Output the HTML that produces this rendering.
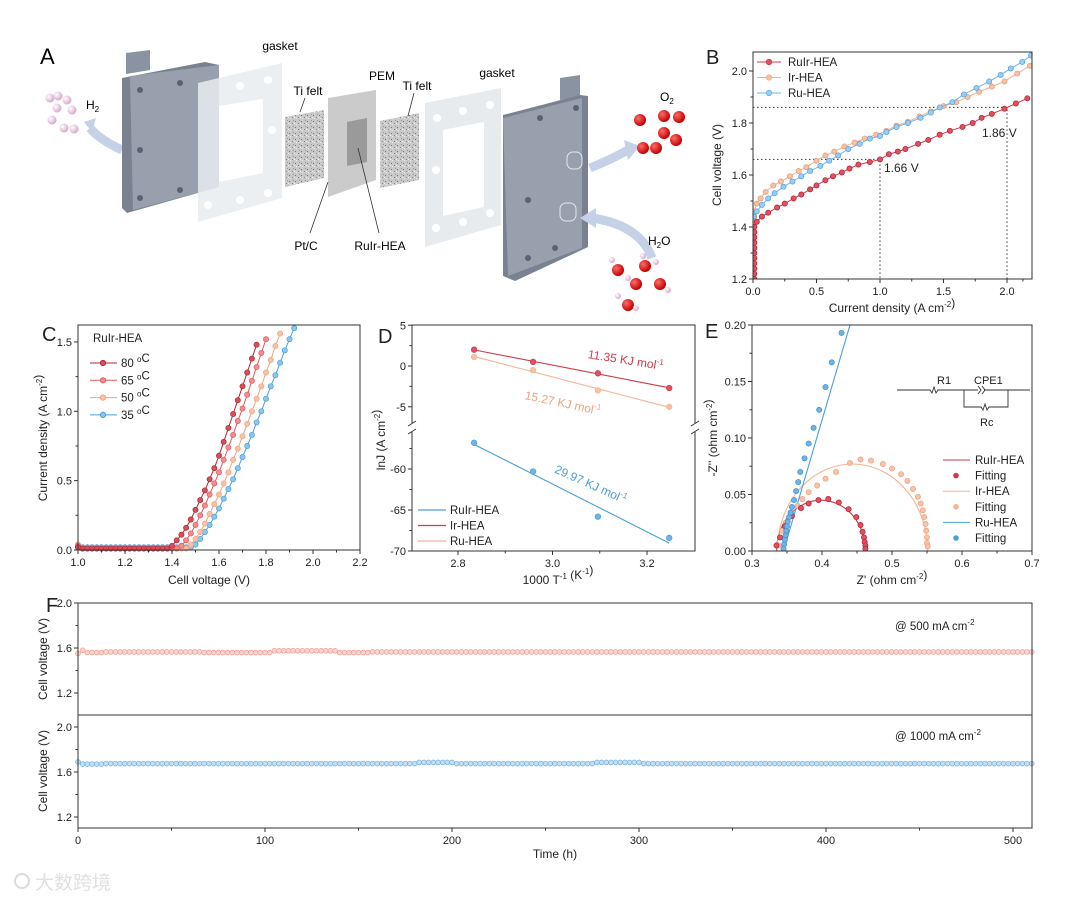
<!DOCTYPE html>
<html><head><meta charset="utf-8"><style>
html,body{margin:0;padding:0;background:#fff;}
svg{display:block;font-family:"Liberation Sans","Noto Sans CJK SC",sans-serif;}
</style></head><body>
<svg id="fig" width="1080" height="901" viewBox="0 0 1080 901" xmlns="http://www.w3.org/2000/svg">
<defs>
<pattern id="felt" width="6" height="6" patternUnits="userSpaceOnUse">
<rect width="6" height="6" fill="#c9c9c9"/><rect x="1" y="1" width="1" height="1" fill="#777"/><rect x="4" y="3" width="1" height="1" fill="#888"/><rect x="2" y="4" width="1" height="1" fill="#eee"/><rect x="5" y="0" width="1" height="1" fill="#999"/><rect x="0" y="3" width="1" height="1" fill="#f4f4f4"/>
</pattern>
<radialGradient id="red" cx="35%" cy="35%" r="65%"><stop offset="0" stop-color="#ff6b6b"/><stop offset="1" stop-color="#c40000"/></radialGradient>
<radialGradient id="pink" cx="35%" cy="35%" r="65%"><stop offset="0" stop-color="#fff"/><stop offset="1" stop-color="#d9a8cc"/></radialGradient>
</defs>
<g>
<text x="40" y="64" font-size="22">A</text>
<path d="M122,150 Q100,140 90,128" stroke="#c4d1e6" stroke-width="9" fill="none"/>
<polygon points="84,122 96,118 92,132" fill="#c4d1e6"/>
<g>
<circle cx="50" cy="98" r="4.5" fill="url(#pink)"/><circle cx="58" cy="96" r="4.5" fill="url(#pink)"/><circle cx="57" cy="108" r="4.5" fill="url(#pink)"/><circle cx="67" cy="100" r="4.5" fill="url(#pink)"/><circle cx="72" cy="110" r="4.5" fill="url(#pink)"/><circle cx="52" cy="120" r="4.5" fill="url(#pink)"/><circle cx="64" cy="128" r="4.5" fill="url(#pink)"/><circle cx="74" cy="129" r="4.5" fill="url(#pink)"/>
</g>
<text x="86" y="109" font-size="12">H<tspan font-size="8" dy="3">2</tspan></text>
<polygon points="126,53 150,50 150,70 126,74" fill="#8a93a2"/>
<polygon points="122,78 205,62 219,65 219,187 127,213 122,208" fill="#7a8292"/>
<polygon points="130,76 219,65 219,187 133,210" fill="#98a0ae"/>
<g fill="#5a6170"><circle cx="140" cy="90" r="3"/><circle cx="180" cy="83" r="3"/><circle cx="140" cy="150" r="3"/><circle cx="140" cy="198" r="3"/><circle cx="180" cy="190" r="3"/></g>
<polygon points="198,83 282,63 282,198 198,222" fill="#e9ecef" opacity="0.85"/>
<polygon points="219,106 263,99 263,173 219,182" fill="#fff"/>
<g fill="#fff"><circle cx="240" cy="86" r="4"/><circle cx="268" cy="80" r="4"/><circle cx="272" cy="130" r="4"/><circle cx="240" cy="200" r="4"/><circle cx="268" cy="193" r="4"/><circle cx="208" cy="205" r="4"/></g>
<text x="280" y="50" font-size="12" text-anchor="middle">gasket</text>
<polygon points="285,117 324,110 324,178 285,187" fill="url(#felt)"/>
<text x="308" y="95" font-size="12" text-anchor="middle">Ti felt</text>
<line x1="305" y1="98" x2="300" y2="112" stroke="#333" stroke-width="0.8"/>
<polygon points="328,98 376,90 376,180 328,197" fill="#cbcbcb"/>
<polygon points="347,122 367,118 367,162 347,166" fill="#9a9a9a"/>
<text x="382" y="80" font-size="12" text-anchor="middle">PEM</text>
<polygon points="380,121 419,113 419,180 380,188" fill="url(#felt)"/>
<text x="417" y="90" font-size="12" text-anchor="middle">Ti felt</text>
<line x1="414" y1="93" x2="408" y2="116" stroke="#333" stroke-width="0.8"/>
<polygon points="425,103 501,88 501,225 425,247" fill="#e6e9ec" opacity="0.9"/>
<polygon points="443,130 484,122 484,207 443,216" fill="#fff"/>
<g fill="#fff"><circle cx="437" cy="118" r="4"/><circle cx="463" cy="111" r="4"/><circle cx="490" cy="105" r="4"/><circle cx="436" cy="170" r="4"/><circle cx="436" cy="228" r="4"/><circle cx="463" cy="222" r="4"/><circle cx="490" cy="213" r="4"/></g>
<text x="497" y="77" font-size="12" text-anchor="middle">gasket</text>
<polygon points="560,78 580,75 580,96 560,100" fill="#8a93a2"/>
<polygon points="503,115 580,95 588,96 588,247 515,281 503,276" fill="#7a8292"/>
<polygon points="503,118 582,98 582,248 508,276" fill="#98a0ae"/>
<g fill="none" stroke="#e4e8ee" stroke-width="1"><rect x="567" y="152" width="15" height="17" rx="6"/><rect x="560" y="203" width="16" height="18" rx="6"/></g>
<g fill="#5a6170"><circle cx="540" cy="118" r="3"/><circle cx="576" cy="108" r="3"/><circle cx="528" cy="200" r="3"/><circle cx="528" cy="258" r="3"/><circle cx="555" cy="248" r="3"/></g>
<line x1="310" y1="233" x2="328" y2="182" stroke="#333" stroke-width="0.8"/>
<line x1="379" y1="233" x2="358" y2="148" stroke="#333" stroke-width="0.8"/>
<text x="306" y="250" font-size="12" text-anchor="middle">Pt/C</text>
<text x="380" y="250" font-size="12" text-anchor="middle">RuIr-HEA</text>
<path d="M590,168 Q610,160 628,150" stroke="#c4d1e6" stroke-width="9" fill="none"/>
<polygon points="624,140 640,146 628,160" fill="#c4d1e6"/>
<path d="M652,258 Q640,225 592,218" stroke="#c4d1e6" stroke-width="9" fill="none"/>
<polygon points="596,208 580,218 596,228" fill="#c4d1e6"/>
<text x="660" y="101" font-size="12">O<tspan font-size="8" dy="3">2</tspan></text>
<g><circle cx="640" cy="120" r="6" fill="url(#red)"/><circle cx="664" cy="116" r="6" fill="url(#red)"/><circle cx="679" cy="117" r="6" fill="url(#red)"/><circle cx="664" cy="133" r="6" fill="url(#red)"/><circle cx="676" cy="140" r="6" fill="url(#red)"/><circle cx="643" cy="148" r="6" fill="url(#red)"/><circle cx="656" cy="148" r="6" fill="url(#red)"/></g>
<text x="648" y="245" font-size="12">H<tspan font-size="8" dy="3">2</tspan><tspan dy="-3">O</tspan></text>
<g><circle cx="612" cy="260" r="3" fill="url(#pink)"/><circle cx="618" cy="270" r="6" fill="url(#red)"/><circle cx="645" cy="266" r="6" fill="url(#red)"/><circle cx="656" cy="262" r="3" fill="url(#pink)"/><circle cx="643" cy="256" r="3" fill="url(#pink)"/><circle cx="636" cy="284" r="6" fill="url(#red)"/><circle cx="628" cy="278" r="3" fill="url(#pink)"/><circle cx="660" cy="284" r="6" fill="url(#red)"/><circle cx="668" cy="290" r="3" fill="url(#pink)"/><circle cx="628" cy="305" r="6" fill="url(#red)"/><circle cx="618" cy="296" r="3" fill="url(#pink)"/><circle cx="636" cy="308" r="3" fill="url(#pink)"/></g>
</g>
<g id="charts"></g>
<g opacity="0.35">
<circle cx="22" cy="881" r="7" fill="none" stroke="#999" stroke-width="2"/>
<text x="35" y="889" font-size="19" fill="#aaa" font-family="'Noto Sans CJK SC',sans-serif">大数跨境</text>
</g>
</svg>
<script>
// ---------- Panel B data ----------
const bRuIrX=[0.01,0.01,0.01,0.01,0.01,0.01,0.01,0.01,0.01,0.01,0.01,0.03,0.07,0.12,0.19,0.25,0.32,0.38,0.45,0.5,0.57,0.63,0.7,0.76,0.83,0.92,1.0,1.07,1.14,1.2,1.3,1.38,1.47,1.55,1.65,1.73,1.8,1.88,1.98,2.07,2.16];
const bRuIrV=[1.2,1.22,1.24,1.26,1.28,1.3,1.32,1.34,1.36,1.38,1.4,1.42,1.44,1.455,1.475,1.49,1.51,1.525,1.545,1.56,1.58,1.595,1.61,1.625,1.64,1.65,1.66,1.68,1.69,1.7,1.72,1.735,1.755,1.77,1.785,1.8,1.82,1.835,1.855,1.875,1.895];
const bIrX=[0.01,0.01,0.01,0.01,0.01,0.01,0.01,0.01,0.01,0.01,0.01,0.01,0.01,0.01,0.03,0.06,0.1,0.16,0.22,0.29,0.36,0.42,0.5,0.57,0.64,0.72,0.8,0.88,0.97,1.05,1.13,1.22,1.31,1.4,1.5,1.6,1.69,1.78,1.88,1.98,2.08,2.18];
const bIrV=[1.2,1.22,1.24,1.26,1.28,1.3,1.32,1.34,1.36,1.38,1.4,1.42,1.44,1.46,1.49,1.51,1.535,1.56,1.575,1.595,1.615,1.63,1.655,1.675,1.69,1.71,1.725,1.74,1.755,1.77,1.79,1.805,1.825,1.845,1.865,1.88,1.9,1.92,1.94,1.96,1.99,2.02];
const bRuX=[0.005,0.005,0.005,0.005,0.005,0.005,0.005,0.005,0.005,0.005,0.005,0.005,0.005,0.03,0.07,0.12,0.17,0.24,0.31,0.38,0.45,0.53,0.6,0.67,0.75,0.84,0.92,1.0,1.05,1.13,1.22,1.32,1.4,1.47,1.57,1.66,1.76,1.86,1.95,2.03,2.12,2.19];
const bRuV=[1.2,1.22,1.24,1.26,1.28,1.3,1.32,1.34,1.36,1.38,1.4,1.42,1.44,1.46,1.485,1.51,1.53,1.555,1.575,1.595,1.615,1.635,1.655,1.675,1.7,1.72,1.74,1.75,1.765,1.785,1.8,1.82,1.84,1.86,1.88,1.91,1.935,1.96,1.985,2.01,2.035,2.06];
const bXTicks=[0,0.5,1.0,1.5,2.0];
const bYTicks=[1.2,1.4,1.6,1.8,2.0];
// ---------- Panel C data ----------
const cVolt=[1.00,1.02,1.04,1.06,1.08,1.10,1.12,1.14,1.16,1.18,1.20,1.22,1.24,1.26,1.28,1.30,1.32,1.34,1.36,1.38,1.40,1.42,1.44,1.46,1.48,1.50,1.52,1.54,1.56,1.58,1.60,1.62,1.64,1.66,1.68,1.70,1.72,1.74,1.76,1.78,1.80,1.82,1.84,1.86,1.88,1.90,1.92];
const c80=[0.02,0.01,0.01,0.01,0.01,0.01,0.01,0.01,0.01,0.01,0.01,0.01,0.01,0.01,0.01,0.01,0.01,0.01,0.01,0.01,0.03,0.07,0.11,0.16,0.22,0.29,0.36,0.43,0.51,0.59,0.68,0.78,0.88,0.98,1.08,1.18,1.28,1.38,1.48];
const c65=[0.03,0.01,0.01,0.01,0.01,0.01,0.01,0.01,0.01,0.01,0.01,0.01,0.01,0.01,0.01,0.01,0.01,0.01,0.01,0.01,0.01,0.01,0.03,0.07,0.12,0.18,0.25,0.32,0.40,0.48,0.56,0.65,0.74,0.83,0.93,1.02,1.12,1.22,1.32,1.42,1.52];
const c50=[0.04,0.01,0.01,0.01,0.01,0.01,0.01,0.01,0.01,0.01,0.01,0.01,0.01,0.01,0.01,0.01,0.01,0.01,0.01,0.01,0.01,0.01,0.01,0.01,0.04,0.08,0.13,0.19,0.26,0.33,0.40,0.48,0.56,0.65,0.73,0.82,0.91,1.00,1.09,1.18,1.28,1.37,1.47,1.56];
const c35=[0.02,0.02,0.02,0.02,0.02,0.02,0.02,0.02,0.02,0.02,0.02,0.02,0.02,0.02,0.02,0.02,0.02,0.02,0.02,0.02,0.02,0.02,0.02,0.02,0.02,0.04,0.08,0.13,0.18,0.24,0.30,0.37,0.44,0.51,0.59,0.67,0.75,0.83,0.92,1.00,1.09,1.18,1.26,1.35,1.44,1.52,1.60];
const cXTicks=[1.0,1.2,1.4,1.6,1.8,2.0,2.2];
const cYTicks=[0,0.5,1.0,1.5];
// ---------- Panel D data ----------
const dX=[2.834,2.959,3.096,3.247];
const dRed=[2.0,0.5,-0.9,-2.7];
const dOrange=[1.1,-0.5,-3.0,-5.0];
const dBlue=[-56.8,-60.3,-65.8,-68.4];
const dXTicks=[2.8,3.0,3.2];
const dYTicksUpper=[5,0,-5];
const dYTicksLower=[-60,-65,-70];
// ---------- Panel E data ----------
const eRedZ=[0.335,0.34,0.347,0.357,0.37,0.381,0.395,0.409,0.424,0.438,0.449,0.455,0.458,0.46,0.461,0.462,0.462];
const eRedY=[0.005,0.012,0.022,0.031,0.038,0.042,0.045,0.046,0.043,0.037,0.030,0.023,0.017,0.012,0.008,0.005,0.002];
const eOrZ=[0.338,0.34,0.343,0.348,0.356,0.365,0.372,0.381,0.393,0.405,0.42,0.44,0.455,0.47,0.487,0.5,0.513,0.522,0.53,0.537,0.541,0.544,0.546,0.548,0.549,0.55,0.55,0.551];
const eOrY=[0.005,0.012,0.018,0.025,0.033,0.040,0.046,0.052,0.058,0.064,0.070,0.078,0.081,0.080,0.077,0.073,0.068,0.062,0.055,0.048,0.042,0.036,0.030,0.024,0.018,0.012,0.007,0.004];
const eBlZ=[0.345,0.346,0.347,0.348,0.349,0.35,0.351,0.353,0.355,0.357,0.36,0.363,0.366,0.369,0.375,0.381,0.388,0.396,0.405,0.414,0.428];
const eBlY=[0.002,0.006,0.010,0.014,0.018,0.022,0.026,0.030,0.034,0.039,0.045,0.053,0.061,0.070,0.082,0.095,0.109,0.125,0.145,0.167,0.193];
const eFitStart=[0.335,0.336];
const eFitEnd=[0.462,0.551];
const eFitHeight=[0.045,0.077];
const eRuLine=[0.345,0.0,0.440,0.2];
const eXTicks=[0.3,0.4,0.5,0.6,0.7];
const eYTicks=[0,0.05,0.10,0.15,0.20];
// ---------- Panel F data (every 2.5 h) ----------
const fTime=[0,2.5,5,7.5,10,12.5,15,17.5,20,22.5,25,27.5,30,32.5,35,37.5,40,42.5,45,47.5,
50,52.5,55,57.5,60,62.5,65,67.5,70,72.5,75,77.5,80,82.5,85,87.5,90,92.5,95,97.5,
100,102.5,105,107.5,110,112.5,115,117.5,120,122.5,125,127.5,130,132.5,135,137.5,140,142.5,145,147.5,
150,152.5,155,157.5,160,162.5,165,167.5,170,172.5,175,177.5,180,182.5,185,187.5,190,192.5,195,197.5,
200,202.5,205,207.5,210,212.5,215,217.5,220,222.5,225,227.5,230,232.5,235,237.5,240,242.5,245,247.5,
250,252.5,255,257.5,260,262.5,265,267.5,270,272.5,275,277.5,280,282.5,285,287.5,290,292.5,295,297.5,
300,302.5,305,307.5,310,312.5,315,317.5,320,322.5,325,327.5,330,332.5,335,337.5,340,342.5,345,347.5,
350,352.5,355,357.5,360,362.5,365,367.5,370,372.5,375,377.5,380,382.5,385,387.5,390,392.5,395,397.5,
400,402.5,405,407.5,410,412.5,415,417.5,420,422.5,425,427.5,430,432.5,435,437.5,440,442.5,445,447.5,
450,452.5,455,457.5,460,462.5,465,467.5,470,472.5,475,477.5,480,482.5,485,487.5,490,492.5,495,497.5,
500,502.5,505,507.5,510];
const f500=[1.55,1.58,1.56,1.56,1.56,1.56,
1.565,1.565,1.565,1.565,1.565,1.565,1.565,1.565,1.565,1.565,1.565,1.565,1.565,1.565,1.565,1.565,1.565,1.565,1.565,1.565,1.565,
1.56,1.56,1.56,1.56,1.56,1.56,1.56,1.56,1.56,1.56,1.56,1.56,1.56,1.56,1.56,
1.575,1.575,1.575,1.575,1.575,1.575,1.575,1.575,1.575,1.575,1.575,1.575,1.575,1.575,
1.56,1.56,1.56,1.56,1.56,1.56,1.56,
1.565,1.565,1.565,1.565,1.565,1.565,1.565,1.565,1.565,1.565,
1.565,1.565,1.565,1.565,1.565,1.565,1.565,1.565,1.565,1.565,
1.565,1.565,1.565,1.565,1.565,1.565,1.565,1.565,1.565,1.565,
1.565,1.565,1.565,1.565,1.565,1.565,1.565,1.565,1.565,1.565,
1.565,1.565,1.565,1.565,1.565,1.565,1.565,1.565,1.565,1.565,
1.565,1.565,1.565,1.565,1.565,1.565,1.565,1.565,1.565,1.565,
1.565,1.565,1.565,1.565,1.565,1.565,1.565,1.565,1.565,1.565,
1.565,1.565,1.565,1.565,1.565,1.565,1.565,1.565,1.565,1.565,
1.565,1.565,1.565,1.565,1.565,1.565,1.565,1.565,1.565,1.565,
1.565,1.565,1.565,1.565,1.565,1.565,1.565,1.565,1.565,1.565,
1.565,1.565,1.565,1.565,1.565,1.565,1.565,1.565,1.565,1.565,
1.565,1.565,1.565,1.565,1.565,1.565,1.565,1.565,1.565,1.565,
1.565,1.565,1.565,1.565,1.565,1.565,1.565,1.565,1.565,1.565,
1.565,1.565,1.565,1.565,1.565,1.565,1.565,1.565,1.565,1.565,
1.565,1.565];
const f1000=[1.69,1.67,1.67,1.67,1.67,1.67,
1.675,1.675,1.675,1.675,1.675,1.675,1.675,1.675,1.675,1.675,
1.675,1.675,1.675,1.675,1.675,1.675,1.675,1.675,1.675,1.675,
1.675,1.675,1.675,1.675,1.675,1.675,1.675,1.675,1.675,1.675,
1.675,1.675,1.675,1.675,1.675,1.675,1.675,1.675,1.675,1.675,
1.675,1.675,1.675,1.675,1.675,1.675,1.675,1.675,1.675,1.675,
1.675,1.675,1.675,1.675,1.675,1.675,1.675,1.675,1.675,1.675,
1.675,1.675,1.675,1.675,1.675,1.675,1.675,
1.685,1.685,1.685,1.685,1.685,1.685,1.685,1.685,
1.675,1.675,1.675,1.675,1.675,1.675,1.675,1.675,1.675,1.675,
1.675,1.675,1.675,1.675,1.675,1.675,1.675,1.675,1.675,1.675,
1.675,1.675,1.675,1.675,1.675,1.675,1.675,1.675,1.675,1.675,
1.685,1.685,1.685,1.685,1.685,1.685,1.685,1.685,1.685,1.685,
1.675,1.675,1.675,1.675,1.675,1.675,1.675,1.675,1.675,1.675,
1.675,1.675,1.675,1.675,1.675,1.675,1.675,1.675,1.675,1.675,
1.675,1.675,1.675,1.675,1.675,1.675,1.675,1.675,1.675,1.675,
1.675,1.675,1.675,1.675,1.675,1.675,1.675,1.675,1.675,1.675,
1.675,1.675,1.675,1.675,1.675,1.675,1.675,1.675,1.675,1.675,
1.675,1.675,1.675,1.675,1.675,1.675,1.675,1.675,1.675,1.675,
1.675,1.675,1.675,1.675,1.675,1.675,1.675,1.675,1.675,1.675,
1.675,1.675,1.675,1.675,1.675,1.675,1.675,1.675,1.675,1.675,
1.675,1.675,1.675,1.675];
const fXTicks=[0,100,200,300,400,500];
const fYTicks=[1.2,1.6,2.0];

const NS='http://www.w3.org/2000/svg';
const root=document.getElementById('charts');
function mk(parent,tag,attrs,name){
  const el=document.createElementNS(NS,tag);
  for(const k in attrs) el.setAttribute(k,attrs[k]);
  
  
  parent.appendChild(el);
  return el;
}
function txt(parent,x,y,s,opts,name){
  const t=mk(parent,'text',Object.assign({x:x,y:y,'font-size':11,fill:'#222'},opts||{}),name);
  t.innerHTML=s;
  return t;
}
const SUP=(s)=>`<tspan font-size="8" dy="-5">${s}</tspan><tspan dy="5"></tspan>`;
function xTicks(g,vals,sx,y,fmt,name,minor){
  vals.forEach(v=>{
    mk(g,'line',{x1:sx(v),x2:sx(v),y1:y,y2:y+4,stroke:'#333'},name+'-tick');
    txt(g,sx(v),y+16,fmt(v),{'text-anchor':'middle'},name+'-label');
  });
  (minor||[]).forEach(v=>{mk(g,'line',{x1:sx(v),x2:sx(v),y1:y,y2:y+2.5,stroke:'#333'},name+'-minor-tick');});
}
function yTicks(g,vals,sy,x,fmt,name,minor){
  vals.forEach(v=>{
    mk(g,'line',{x1:x-4,x2:x,y1:sy(v),y2:sy(v),stroke:'#333'},name+'-tick');
    txt(g,x-6,sy(v)+4,fmt(v),{'text-anchor':'end'},name+'-label');
  });
  (minor||[]).forEach(v=>{mk(g,'line',{x1:x-2.5,x2:x,y1:sy(v),y2:sy(v),stroke:'#333'},name+'-minor-tick');});
}
function ytitle(g,x,y,s,name){
  txt(g,0,0,s,{'text-anchor':'middle','font-size':12,transform:`translate(${x},${y}) rotate(-90)`},name);
}
function polyline(g,xs,ys,sx,sy,color,name,w){
  const pts=xs.map((x,i)=>sx(x).toFixed(1)+','+sy(ys[i]).toFixed(1)).join(' ');
  mk(g,'polyline',{points:pts,fill:'none',stroke:color,'stroke-width':w||1},name);
}
function dots(g,xs,ys,sx,sy,fill,stroke,r,name){
  xs.forEach((x,i)=>{mk(g,'circle',{cx:sx(x).toFixed(1),cy:sy(ys[i]).toFixed(1),r:r,fill:fill,stroke:stroke,'stroke-width':0.7},name);});
}
const f1=v=>v.toFixed(1), f2=v=>v.toFixed(2);

// ===== Panel B =====
(function(){
  const g=mk(root,'g',{},'panel-b-polarization');
  const sx=v=>753+v*127, sy=v=>279-(v-1.2)*260;
  txt(g,706,64,'B',{'font-size':20},'panel-label-b');
  const clip=mk(g,'clipPath',{id:'clipB'},'clip-b');
  mk(clip,'rect',{x:753,y:52,width:279,height:227},'clip-b-rect');
  const pg=mk(g,'g',{'clip-path':'url(#clipB)'},'plot-b');
  mk(pg,'polyline',{points:`${sx(0)},${sy(1.86)} ${sx(2)},${sy(1.86)} ${sx(2)},${sy(1.2)}`,fill:'none',stroke:'#333','stroke-dasharray':'1.5,2.5'},'guide-1p86');
  mk(pg,'polyline',{points:`${sx(0)},${sy(1.66)} ${sx(1)},${sy(1.66)} ${sx(1)},${sy(1.2)}`,fill:'none',stroke:'#333','stroke-dasharray':'1.5,2.5'},'guide-1p66');
  polyline(pg,bIrX,bIrV,sx,sy,'#f0b090','line-ir-hea');
  dots(pg,bIrX,bIrV,sx,sy,'#f5c2a6','#e89a78',2.6,'point-ir-hea');
  polyline(pg,bRuX,bRuV,sx,sy,'#6fb3e8','line-ru-hea');
  dots(pg,bRuX,bRuV,sx,sy,'#9acdf3','#4a9fe0',2.6,'point-ru-hea');
  polyline(pg,bRuIrX,bRuIrV,sx,sy,'#d23a4a','line-ruir-hea');
  dots(pg,bRuIrX,bRuIrV,sx,sy,'#e0505e','#b01e30',2.6,'point-ruir-hea');
  mk(g,'rect',{x:753,y:52,width:279,height:227,fill:'none',stroke:'#333'},'plot-frame-b');
  xTicks(g,bXTicks,sx,279,f1,'x-axis-b',[0.25,0.75,1.25,1.75,2.125]);
  yTicks(g,bYTicks,sy,753,f1,'y-axis-b',[1.3,1.5,1.7,1.9]);
  txt(g,982,137,'1.86 V',{'font-size':12},'annotation-1p86v');
  txt(g,884,172,'1.66 V',{'font-size':12},'annotation-1p66v');
  txt(g,892,312,'Current density (A cm'+SUP('-2')+')',{'text-anchor':'middle','font-size':12},'x-axis-title-b');
  ytitle(g,721,165,'Cell voltage (V)','y-axis-title-b');
  const leg=[['RuIr-HEA','#d23a4a','#e0505e'],['Ir-HEA','#f0b090','#f5c2a6'],['Ru-HEA','#6fb3e8','#9acdf3']];
  leg.forEach((l,i)=>{const y=62+i*15.5;
    mk(g,'line',{x1:757,x2:781,y1:y,y2:y,stroke:l[1]},'legend-line-b');
    mk(g,'circle',{cx:769,cy:y,r:2.6,fill:l[2],stroke:l[1]},'legend-marker-b');
    txt(g,788,y+4,l[0],{'font-size':11.5},'legend-entry-b');});
})();

// ===== Panel C =====
(function(){
  const g=mk(root,'g',{},'panel-c-temperature');
  const sx=v=>78+(v-1)*235, sy=v=>550-v*138.7;
  txt(g,42,341,'C',{'font-size':20},'panel-label-c');
  const clip=mk(g,'clipPath',{id:'clipC'},'clip-c');
  mk(clip,'rect',{x:70,y:325,width:290,height:232},'clip-c-rect');
  const pg=mk(g,'g',{'clip-path':'url(#clipC)'},'plot-c');
  const series=[[c35,'#4a9fd6','#8cc6ee','35'],[c50,'#f0a27c','#f7c3a8','50'],[c65,'#e0585c','#ee8e90','65'],[c80,'#b52630','#d4505a','80']];
  series.forEach(s=>{const xs=cVolt.slice(0,s[0].length);
    polyline(pg,xs,s[0],sx,sy,s[1],'line-'+s[3]+'c');
    dots(pg,xs,s[0],sx,sy,s[2],s[1],2.6,'point-'+s[3]+'c');});
  mk(g,'rect',{x:78,y:325,width:282,height:225,fill:'none',stroke:'#333'},'plot-frame-c');
  xTicks(g,cXTicks,sx,550,f1,'x-axis-c',[1.1,1.3,1.5,1.7,1.9,2.1]);
  yTicks(g,cYTicks,sy,78,f1,'y-axis-c',[0.25,0.75,1.25]);
  txt(g,209,584,'Cell voltage (V)',{'text-anchor':'middle','font-size':12},'x-axis-title-c');
  ytitle(g,47,438,'Current density (A cm'+SUP('-2')+')','y-axis-title-c');
  txt(g,93,342,'RuIr-HEA',{'font-size':11.5},'legend-title-c');
  const leg=[['80','#b52630','#d4505a'],['65','#e0585c','#ee8e90'],['50','#f0a27c','#f7c3a8'],['35','#4a9fd6','#8cc6ee']];
  leg.forEach((l,i)=>{const y=363+i*17.3;
    mk(g,'line',{x1:90,x2:117,y1:y,y2:y,stroke:l[1]},'legend-line-c');
    mk(g,'circle',{cx:103,cy:y,r:2.6,fill:l[2],stroke:l[1]},'legend-marker-c');
    txt(g,121,y+4,l[0]+' '+SUP('o')+'C',{'font-size':11.5},'legend-entry-c');});
})();

// ===== Panel D =====
(function(){
  const g=mk(root,'g',{},'panel-d-arrhenius');
  const sx=v=>458+(v-2.8)*472.5;
  const syU=v=>366-v*8.15, syL=v=>551-(v+70)*8.2;
  const sy=v=>v>-30?syU(v):syL(v);
  txt(g,378,343,'D',{'font-size':20},'panel-label-d');
  function fit(ys){const n=dX.length;const mx=dX.reduce((a,b)=>a+b)/n, my=ys.reduce((a,b)=>a+b)/n;
    let sxy=0,sxx=0;dX.forEach((x,i)=>{sxy+=(x-mx)*(ys[i]-my);sxx+=(x-mx)*(x-mx);});const b=sxy/sxx;return [my-b*mx,b];}
  const ser=[[dRed,'#d23a4a','#e0505e','ir-hea'],[dOrange,'#f3b595','#f5c2a6','ru-hea'],[dBlue,'#4a9fd6','#6fb3e8','ruir-hea']];
  ser.forEach(s=>{const [a,b]=fit(s[0]);const x0=dX[0],x1=dX[dX.length-1];
    mk(g,'line',{x1:sx(x0),y1:sy(a+b*x0),x2:sx(x1),y2:sy(a+b*x1),stroke:s[1],'stroke-width':1.1},'fit-line-'+s[3]);
    dots(g,dX,s[0],sx,sy,s[2],s[1],2.8,'point-'+s[3]);});
  mk(g,'rect',{x:412,y:325,width:283,height:226,fill:'none',stroke:'#333'},'plot-frame-d');
  [412,695].forEach(x=>{
    mk(g,'rect',{x:x-3,y:423,width:6,height:9,fill:'#fff'},'axis-break-gap');
    mk(g,'line',{x1:x-4,y1:426,x2:x+4,y2:421,stroke:'#333'},'axis-break-mark');
    mk(g,'line',{x1:x-4,y1:434,x2:x+4,y2:429,stroke:'#333'},'axis-break-mark');
  });
  xTicks(g,dXTicks,sx,551,f1,'x-axis-d',[2.9,3.1]);
  yTicks(g,dYTicksUpper,syU,412,v=>String(v),'y-axis-upper-d',[2.5,-2.5]);
  yTicks(g,dYTicksLower,syL,412,v=>String(v),'y-axis-lower-d',[-57.5,-62.5,-67.5]);
  txt(g,558,584,'1000 T'+SUP('-1')+' (K'+SUP('-1')+')',{'text-anchor':'middle','font-size':12},'x-axis-title-d');
  ytitle(g,385,440,'lnJ (A cm'+SUP('-2')+')','y-axis-title-d');
  txt(g,0,0,'11.35 KJ mol'+SUP('-1'),{'font-size':12,fill:'#d23a4a','text-anchor':'middle',transform:'translate(625,364) rotate(9)'},'activation-energy-ir');
  txt(g,0,0,'15.27 KJ mol'+SUP('-1'),{'font-size':12,fill:'#f0a27c','text-anchor':'middle',transform:'translate(562,407) rotate(12)'},'activation-energy-ru');
  txt(g,0,0,'29.97 KJ mol'+SUP('-1'),{'font-size':12,fill:'#4a9fd6','text-anchor':'middle',transform:'translate(589,488) rotate(24)'},'activation-energy-ruir');
  const leg=[['RuIr-HEA','#4a9fd6'],['Ir-HEA','#d23a4a'],['Ru-HEA','#f3b595']];
  leg.forEach((l,i)=>{const y=510+i*15.5;
    mk(g,'line',{x1:418,x2:446,y1:y,y2:y,stroke:l[1],'stroke-width':1.2},'legend-line-d');
    txt(g,450,y+4,l[0],{'font-size':11.5},'legend-entry-d');});
})();

// ===== Panel E =====
(function(){
  const g=mk(root,'g',{},'panel-e-eis');
  const sx=v=>752+(v-0.3)*700, sy=v=>551-v*1130;
  txt(g,705,338,'E',{'font-size':20},'panel-label-e');
  const clip=mk(g,'clipPath',{id:'clipE'},'clip-e');
  mk(clip,'rect',{x:752,y:325,width:280,height:226},'clip-e-rect');
  const pg=mk(g,'g',{'clip-path':'url(#clipE)'},'plot-e');
  const fcol=['#d23a4a','#f3b595'];
  [0,1].forEach(i=>{const x0=sx(eFitStart[i]),x1=sx(eFitEnd[i]);const rx=(x1-x0)/2, ry=eFitHeight[i]*1130;
    mk(pg,'path',{d:`M${x0},${sy(0)} A${rx},${ry} 0 0 1 ${x1},${sy(0)}`,fill:'none',stroke:fcol[i],'stroke-width':1.1},i?'fit-curve-ir-hea':'fit-curve-ruir-hea');});
  mk(pg,'line',{x1:sx(eRuLine[0]),y1:sy(eRuLine[1]),x2:sx(eRuLine[2]),y2:sy(eRuLine[3]),stroke:'#4a9fd6','stroke-width':1.1},'fit-line-ru-hea');
  dots(pg,eOrZ,eOrY,sx,sy,'#f7c3a8','#eea07e',2.6,'point-ir-hea');
  dots(pg,eRedZ,eRedY,sx,sy,'#e0505e','#b01e30',2.6,'point-ruir-hea');
  dots(pg,eBlZ,eBlY,sx,sy,'#6fb3e8','#3a8fd0',2.6,'point-ru-hea');
  mk(g,'rect',{x:752,y:325,width:280,height:226,fill:'none',stroke:'#333'},'plot-frame-e');
  xTicks(g,eXTicks,sx,551,f1,'x-axis-e',[0.35,0.45,0.55,0.65]);
  yTicks(g,eYTicks,sy,752,f2,'y-axis-e',[0.025,0.075,0.125,0.175]);
  txt(g,892,584,"Z' (ohm cm"+SUP('-2')+')',{'text-anchor':'middle','font-size':12},'x-axis-title-e');
  ytitle(g,717,438,"-Z'' (ohm cm"+SUP('-2')+')','y-axis-title-e');
  const c=mk(g,'g',{fill:'none',stroke:'#333','stroke-width':0.9},'equivalent-circuit');
  mk(c,'path',{d:'M897,390 H930 l2,3 l2,-6 l2,6 l2,-3 H964 H978 M984,390 H1030 M964,390 V407 H981 l2,3 l2,-6 l2,6 l2,-3 H1008 V390'},'circuit-wires');
  mk(c,'path',{d:'M978,386 l3,4 l-3,4 M982,386 l3,4 l-3,4'},'cpe-symbol');
  txt(g,937,384,'R1',{'font-size':11},'circuit-label-r1');
  txt(g,974,384,'CPE1',{'font-size':11},'circuit-label-cpe1');
  txt(g,980,426,'Rc',{'font-size':11},'circuit-label-rc');
  const leg=[['RuIr-HEA','line','#d23a4a'],['Fitting','dot','#d23a4a'],['Ir-HEA','line','#f3b595'],['Fitting','dot','#f3b595'],['Ru-HEA','line','#4a9fd6'],['Fitting','dot','#4a9fd6']];
  leg.forEach((l,i)=>{const y=460+i*15.6;
    if(l[1]==='line') mk(g,'line',{x1:943,x2:970,y1:y,y2:y,stroke:l[2]},'legend-line-e');
    else mk(g,'circle',{cx:956,cy:y,r:2.8,fill:l[2]},'legend-marker-e');
    txt(g,975,y+4,l[0],{'font-size':11.5},'legend-entry-e');});
})();

// ===== Panel F =====
(function(){
  const g=mk(root,'g',{},'panel-f-stability');
  const sx=t=>78+t*1.87;
  const sy1=v=>603+(2.0-v)*112.5, sy2=v=>727+(2.0-v)*112.5;
  txt(g,46,612,'F',{'font-size':20},'panel-label-f');
  dots(g,fTime,f500,sx,sy1,'#fbd6d0','#f09890',2.4,'point-500ma');
  dots(g,fTime,f1000,sx,sy2,'#c4def2','#6aaee0',2.4,'point-1000ma');
  mk(g,'rect',{x:78,y:603,width:954,height:225,fill:'none',stroke:'#333'},'plot-frame-f');
  mk(g,'line',{x1:78,x2:1032,y1:715,y2:715,stroke:'#333'},'panel-divider-f');
  xTicks(g,fXTicks,sx,828,v=>String(v),'x-axis-f',[50,150,250,350,450]);
  yTicks(g,fYTicks,sy1,78,f1,'y-axis-top-f',[1.4,1.8]);
  yTicks(g,fYTicks,sy2,78,f1,'y-axis-bottom-f',[1.4,1.8]);
  txt(g,555,858,'Time (h)',{'text-anchor':'middle','font-size':12},'x-axis-title-f');
  ytitle(g,47,659,'Cell voltage (V)','y-axis-title-top-f');
  ytitle(g,47,771,'Cell voltage (V)','y-axis-title-bottom-f');
  txt(g,895,630,'@ 500 mA cm'+SUP('-2'),{'font-size':11.5},'label-500ma');
  txt(g,895,740,'@ 1000 mA cm'+SUP('-2'),{'font-size':11.5},'label-1000ma');
})();
</script>
</body></html>
